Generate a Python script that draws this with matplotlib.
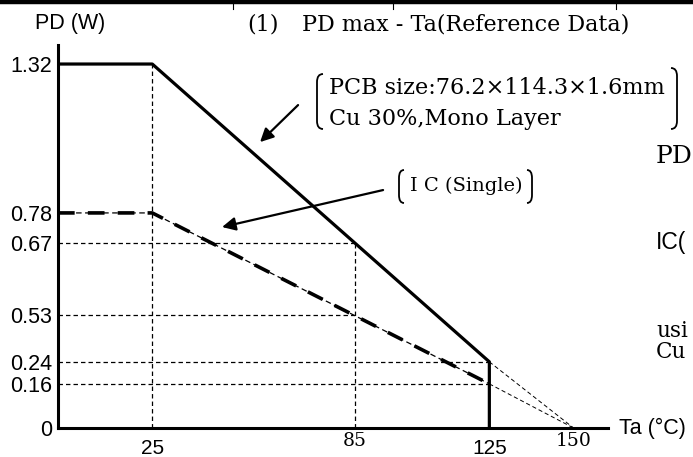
import numpy as np
import matplotlib
matplotlib.use('Agg')
import matplotlib.pyplot as plt
from matplotlib.lines import Line2D
from matplotlib.path import Path
from matplotlib.patches import PathPatch

SERIF = 'DejaVu Serif'
SANS = 'Liberation Sans'
plt.rcParams['lines.scale_dashes'] = False
plt.rcParams['font.family'] = [SANS, 'DejaVu Sans']

# datos
ta_pcb = [0, 25, 125, 125]
pd_pcb = [1.32, 1.32, 0.24, 0]
ta_ic = [0, 25, 125]
pd_ic = [0.78, 0.78, 0.16]
ta_max = 150
x_ticks = [25, 85, 125, 150]
x_labels = ['25', '85', '125', '150']
x_fonts = [SANS, SERIF, SANS, SERIF]
y_labels = ['0', '0.16', '0.24', '0.53', '0.67', '0.78', '1.32']

W, H = 693, 457
fig = plt.figure(figsize=(W / 100, H / 100), dpi=100)
ax = fig.add_axes([58 / W, 29 / H, 550 / W, 383 / H])
ax.set_xlim(-2.97, 160.2)
ax.set_ylim(0, 1.389)


def fx(px):
    return px / W


def fy(py):
    return 1 - py / H


# valores de las guias
pcb85 = np.interp(85, ta_pcb[:3], pd_pcb[:3])
ic85 = np.interp(85, ta_ic, pd_ic)
y_ticks = [0, pd_ic[2], pd_pcb[2], ic85, pcb85, pd_ic[0], pd_pcb[0]]

guide = dict(color='k', lw=0.9, dashes=(3.2, 2.2))
x0 = ax.get_xlim()[0]
ax.plot([x0, 85], [pcb85, pcb85], **guide)
ax.plot([x0, 85], [ic85, ic85], **guide)
ax.plot([x0, 125], [pd_pcb[2], pd_pcb[2]], **guide)
ax.plot([x0, 125], [pd_ic[2], pd_ic[2]], **guide)
ax.plot([25, 25], [0, pd_pcb[1]], **guide)
ax.plot([85, 85], [0, pcb85], **guide)
ax.plot([125, ta_max], [pd_pcb[2], 0], color='k', lw=0.7, dashes=(3, 2))
ax.plot([125, ta_max], [pd_ic[2], 0], color='k', lw=0.7, dashes=(3, 2))

# curvas
ax.plot([x0] + ta_pcb[1:], pd_pcb, color='k', lw=2.3)
ta_ic2 = [x0] + ta_ic[1:]
ax.plot(ta_ic2, pd_ic, color='k', lw=0.9, dashes=(4, 2.5))
ax.plot(ta_ic2, pd_ic, color='k', lw=2.6, dashes=(12, 9.5))

for s in ['top', 'right']:
    ax.spines[s].set_visible(False)
for s in ['left', 'bottom']:
    ax.spines[s].set_linewidth(2.2)
ax.tick_params(length=0, pad=4)
ax.set_yticks(y_ticks, y_labels)
for lbl in ax.get_yticklabels():
    lbl.set_fontfamily(SANS)
    lbl.set_fontsize(15.5)
ax.set_xticks([])
for x, lbl, fam in zip(x_ticks, x_labels, x_fonts):
    if fam == SANS:
        ax.text(x, -0.075, lbl, ha='center', va='center', fontsize=15, family=fam)
    else:
        ax.text(x, -0.047, lbl, ha='center', va='center', fontsize=13.5, family=fam)

fig.text(fx(70), fy(24), 'PD (W)', ha='center', va='center', fontsize=15.5, family=SANS)
fig.text(fx(619), fy(428), 'Ta (°C)', ha='left', va='center', fontsize=15.5, family=SANS)
fig.text(fx(247), fy(24), '(1)', ha='left', va='center', fontsize=16, family=SERIF)
fig.text(fx(302), fy(24), 'PD max - Ta(Reference Data)', ha='left', va='center',
         fontsize=16, family=SERIF)

# textos cortados a la derecha
fig.text(fx(656), fy(157), 'PD', ha='left', va='center', fontsize=18, family=SERIF)
fig.text(fx(656), fy(243), 'IC(', ha='left', va='center', fontsize=16.5, family=SANS)
fig.text(fx(656), fy(358), 'usi\nCu', ha='left', va='baseline', fontsize=15.5,
         family=SERIF, linespacing=0.92)

# notas
fig.text(fx(329), fy(88), 'PCB size:76.2×114.3×1.6mm', ha='left', va='center',
         fontsize=16.1, family=SERIF)
fig.text(fx(329), fy(119), 'Cu 30%,Mono Layer', ha='left', va='center',
         fontsize=16.1, family=SERIF)
fig.text(fx(410), fy(186), 'I C (Single)', ha='left', va='center',
         fontsize=14, family=SERIF)


def bracket(x, y0, y1, d):
    r = 8
    verts = [(x + d, y0), (x, y0), (x, y0 + r), (x, y1 - r), (x, y1), (x + d, y1)]
    codes = [Path.MOVETO, Path.CURVE3, Path.CURVE3, Path.LINETO, Path.CURVE3, Path.CURVE3]
    verts = [(fx(a), fy(b)) for a, b in verts]
    fig.add_artist(PathPatch(Path(verts, codes), fill=False, lw=1.3, color='k',
                             transform=fig.transFigure))


bracket(317, 74, 129, 6)
bracket(677, 68, 129, -6)
bracket(399, 170, 203, 5)
bracket(532, 170, 203, -5)


def to_data(px, py):
    return ((px - 68) / 3.37, (428 - py) / 275.8)


arrow = dict(arrowstyle='-|>', lw=1.6, color='k', mutation_scale=20, shrinkA=0, shrinkB=0)
ax.annotate('', xy=to_data(260, 142), xytext=to_data(298, 105), arrowprops=arrow)
ax.annotate('', xy=to_data(222, 227), xytext=to_data(383, 190), arrowprops=arrow)

# borde de tabla arriba
fig.add_artist(Line2D([0, 1], [fy(2), fy(2)], lw=3.2, color='k', transform=fig.transFigure))
for px in [233, 393, 616]:
    fig.add_artist(Line2D([fx(px), fx(px)], [1, fy(9)], lw=0.8, color='k',
                          transform=fig.transFigure))

fig.savefig('out.png', dpi=100)
